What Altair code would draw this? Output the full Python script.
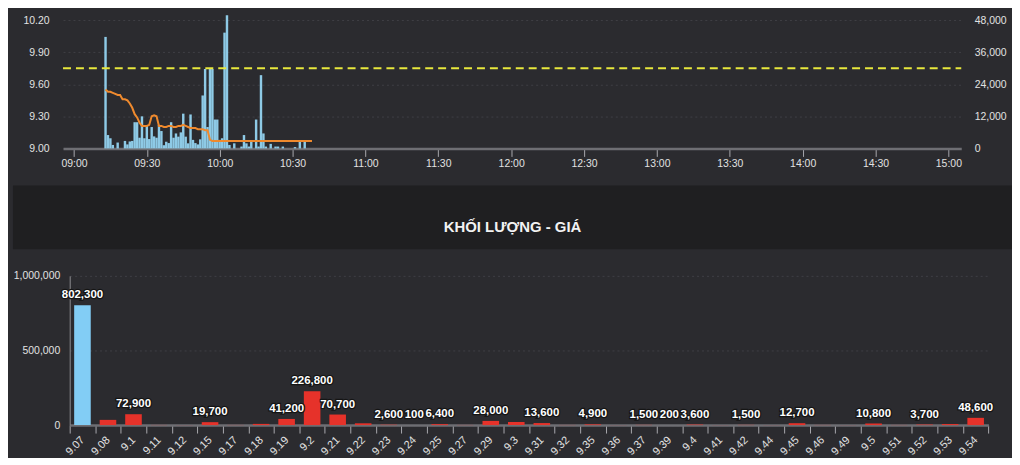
import altair as alt
import pandas as pd

# ---------------- data: intraday panel ----------------
bar_times = ["09:13", "09:14", "09:15", "09:16", "09:18", "09:21", "09:22", "09:23", "09:24", "09:25",
             "09:26", "09:27", "09:28", "09:29", "09:30", "09:31", "09:32", "09:33", "09:34", "09:35",
             "09:36", "09:37", "09:38", "09:39", "09:40", "09:41", "09:42", "09:43", "09:44", "09:45",
             "09:46", "09:47", "09:48", "09:49", "09:50", "09:51", "09:52", "09:53", "09:54", "09:55",
             "09:56", "09:57", "09:58", "09:59", "10:00", "10:01", "10:02", "10:03", "10:04", "10:06",
             "10:09", "10:10", "10:11", "10:12", "10:13", "10:15", "10:16", "10:17", "10:18", "10:19",
             "10:21", "10:23", "10:24", "10:26", "10:31", "10:33", "10:35"]
bar_volumes = [41700, 5000, 3800, 1300, 2200, 2800, 1500, 2600, 2800, 9800,
               9800, 4000, 12000, 3800, 8500, 3500, 8000, 4500, 4000, 8800,
               6500, 1200, 2500, 2000, 9800, 4000, 5600, 4400, 6000, 13000,
               4400, 1900, 12700, 3200, 2000, 1500, 3400, 19800, 29700, 8000,
               29700, 29700, 10800, 10800, 3200, 3800, 43300, 49800, 1300, 1900,
               700, 5000, 1900, 700, 2900, 10800, 700, 27400, 5600, 700,
               1700, 700, 700, 700, 500, 2800, 2700]

price_times = ["09:13", "09:14", "09:15", "09:16", "09:17", "09:18", "09:19", "09:20", "09:21", "09:22",
               "09:23", "09:24", "09:25", "09:26", "09:27", "09:28", "09:29", "09:30", "09:31", "09:32",
               "09:33", "09:34", "09:35", "09:36", "09:37", "09:38", "09:39", "09:40", "09:41", "09:42",
               "09:43", "09:44", "09:45", "09:46", "09:47", "09:48", "09:49", "09:50", "09:51", "09:52",
               "09:53", "09:54", "09:55", "09:56", "09:57", "09:58", "09:59", "10:00", "10:01", "10:02",
               "10:03", "10:04", "10:05", "10:06", "10:07", "10:08", "10:09", "10:10", "10:11", "10:12",
               "10:13", "10:14", "10:15", "10:16", "10:17", "10:18", "10:19", "10:20", "10:21", "10:22",
               "10:23", "10:24", "10:25", "10:26", "10:27", "10:28", "10:29", "10:30", "10:31", "10:32",
               "10:33", "10:34", "10:35", "10:36", "10:37", "10:38"]
price_values = [9.55, 9.53, 9.53, 9.52, 9.51, 9.50, 9.50, 9.46, 9.46, 9.45,
                9.42, 9.38, 9.32, 9.29, 9.24, 9.21, 9.21, 9.21, 9.22, 9.30,
                9.31, 9.30, 9.21, 9.21, 9.20, 9.20, 9.21, 9.21, 9.20, 9.20,
                9.21, 9.21, 9.22, 9.21, 9.20, 9.19, 9.19, 9.19, 9.18, 9.18,
                9.18, 9.17, 9.17, 9.08, 9.07, 9.07, 9.07, 9.07, 9.07, 9.07,
                9.07, 9.07, 9.07, 9.07, 9.07, 9.07, 9.07, 9.07, 9.07, 9.07,
                9.07, 9.07, 9.07, 9.07, 9.07, 9.07, 9.07, 9.07, 9.07, 9.07,
                9.07, 9.07, 9.07, 9.07, 9.07, 9.07, 9.07, 9.07, 9.07, 9.07,
                9.07, 9.07, 9.07, 9.07, 9.07, 9.07]

ref_price = [9.75]
time_ticks = ["09:00", "09:30", "10:00", "10:30", "11:00", "11:30", "12:00",
              "12:30", "13:00", "13:30", "14:00", "14:30", "15:00"]
price_ticks = [9.00, 9.30, 9.60, 9.90, 10.20]
volume_ticks = [0, 12000, 24000, 36000, 48000]

# ---------------- data: volume-by-price panel ----------------
levels = ["9.07", "9.08", "9.1", "9.11", "9.12", "9.15", "9.17", "9.18", "9.19", "9.2",
          "9.21", "9.22", "9.23", "9.24", "9.25", "9.27", "9.29", "9.3", "9.31", "9.32",
          "9.35", "9.36", "9.37", "9.39", "9.4", "9.41", "9.42", "9.44", "9.45", "9.46",
          "9.49", "9.5", "9.51", "9.52", "9.53", "9.54"]
level_volumes = [802300, 35000, 72900, 1000, 500, 19700, 1000, 8000, 41200, 226800,
                 70700, 12000, 2600, 100, 6400, 1000, 28000, 20000, 13600, 1000,
                 4900, 500, 1500, 200, 3600, 500, 1500, 500, 12700, 1000,
                 500, 10800, 1000, 3700, 7000, 48600]
hidden_labels = ["9.08", "9.11", "9.12", "9.17", "9.18", "9.22", "9.27", "9.3", "9.32",
                 "9.36", "9.41", "9.44", "9.46", "9.49", "9.51", "9.53"]
floor_price = "9.07"
level_ticks = [0, 500000, 1000000]
band_title = "KHỐI LƯỢNG - GIÁ"

# ---------------- styling ----------------
FONT = "Liberation Sans"
PANEL = "#2b2b2f"
BAND = "#1f1f21"
TEXT = "#e2e2e2"
GRID = "#404046"
AXIS = "#6e6e73"
TICK = "#a8a8ad"


def to_min(t):
    h, m = t.split(":")
    return int(h) * 60 + int(m) - 540


bars_df = pd.DataFrame({"time": bar_times, "volume": bar_volumes})
bars_df["m"] = bars_df["time"].map(to_min)
bars_df["m0"] = bars_df["m"] - 0.5
bars_df["m1"] = bars_df["m"] + 0.5

price_df = pd.DataFrame({"time": price_times, "price": price_values})
price_df["m"] = price_df["time"].map(to_min)

x_domain = [-4.5, 365.3]
ref_df = pd.DataFrame({"ref": ref_price, "start": [x_domain[0]], "end": [x_domain[1]]})

x_scale = alt.Scale(domain=x_domain, range=[50.3, 953], nice=False, zero=False)
x_axis = alt.Axis(
    values=[to_min(t) for t in time_ticks],
    labelExpr="timeFormat(datetime(2000, 0, 1, 9, datum.value, 0, 0), '%H:%M')",
    title=None, grid=False, domainColor=AXIS, domainWidth=2.5,
    tickColor=TICK, tickSize=8, tickWidth=1, labelPadding=2,
)
price_scale = alt.Scale(domain=[9.0, 10.2], nice=False, zero=False)

vol_bars = alt.Chart(bars_df).mark_bar(color="#8ecae6").encode(
    x=alt.X("m0:Q", scale=x_scale, axis=x_axis),
    x2="m1:Q",
    y=alt.Y("volume:Q", scale=alt.Scale(domain=[0, 48000], nice=False),
            axis=alt.Axis(orient="right", values=volume_ticks, format=",.0f", title=None,
                          grid=False, domain=False, ticks=False, labelPadding=13)),
    y2=alt.Y2(datum=0),
)

price_line = alt.Chart(price_df).mark_line(color="#ef8a2e", strokeWidth=2).encode(
    x=alt.X("m:Q", scale=x_scale, axis=x_axis),
    y=alt.Y("price:Q", scale=price_scale,
            axis=alt.Axis(orient="left", values=price_ticks, format=".2f", title=None,
                          grid=True, gridColor=GRID, gridDash=[2, 3], domain=False,
                          ticks=False, offset=-36.3, labelPadding=0)),
)

ref_rule = alt.Chart(ref_df).mark_rule(color="#e8e83c", strokeWidth=2, strokeDash=[8, 5]).encode(
    x=alt.X("start:Q", scale=x_scale, axis=x_axis),
    x2="end:Q",
    y=alt.Y("ref:Q", scale=price_scale, axis=None),
)

top = alt.layer(vol_bars, price_line, ref_rule).resolve_scale(y="independent").properties(
    width=953, height=129
)

band = alt.Chart(pd.DataFrame({"title": [band_title]})).mark_text(
    font=FONT, fontSize=15, fontWeight="bold", color="#f2f2f2", align="center", baseline="middle"
).encode(
    text="title:N", x=alt.value(502), y=alt.value(42)
).properties(width=1004, height=64, view=alt.ViewBackground(fill=BAND, stroke=None))

bottom_df = pd.DataFrame({"price": levels, "volume": level_volumes})
bottom_df["kind"] = ["floor" if p == floor_price else "down" for p in levels]
bottom_df["show"] = [p not in hidden_labels for p in levels]

x_b = alt.X("price:N", sort=None,
            scale=alt.Scale(range=[57, 980.3], paddingInner=0, paddingOuter=0),
            axis=alt.Axis(tickBand="extent", labelAngle=315, labelAlign="right",
                          labelBaseline="middle", labelPadding=5, labelFontSize=11,
                          tickSize=8, tickColor=TICK,
                          domainColor=AXIS, domainWidth=2.5, labelOverlap=False, title=None))
y_b = alt.Y("volume:Q", scale=alt.Scale(domain=[0, 1000000], nice=False),
            axis=alt.Axis(values=level_ticks, format=",.0f", grid=True, gridColor=GRID,
                          gridDash=[2, 3], domain=True, domainColor="#8c8c90", domainWidth=1,
                          ticks=False, offset=-57, labelPadding=10, title=None))

bars_b = alt.Chart(bottom_df).mark_bar(width=alt.RelativeBandSize(0.65)).encode(
    x=x_b, y=y_b,
    color=alt.Color("kind:N", scale=alt.Scale(domain=["floor", "down"], range=["#82cdf5", "#e6322a"]),
                    legend=None),
)
label_base = alt.Chart(bottom_df).transform_filter("datum.show").encode(
    x=x_b, y=y_b, text=alt.Text("volume:Q", format=",")
)
halo = label_base.mark_text(font=FONT, fontSize=11.5, fontWeight="bold", dy=-10, color="#151515",
                            stroke="#151515", strokeWidth=2.5)
labels = label_base.mark_text(font=FONT, fontSize=11.5, fontWeight="bold", dy=-10, color="#ffffff")
bottom = alt.layer(bars_b, halo, labels).properties(width=981, height=150)

inner = alt.vconcat(band, bottom, spacing=21.75)
chart = alt.vconcat(top, inner, spacing=16.3).properties(
    padding={"top": 6, "left": 0, "right": 0, "bottom": 0}, background=PANEL
).configure_view(stroke=None).configure_axis(
    labelFont=FONT, labelColor=TEXT, labelFontSize=10.5
).configure_text(font=FONT)

chart.save("out.html", embed_options={"renderer": "svg", "actions": False})
